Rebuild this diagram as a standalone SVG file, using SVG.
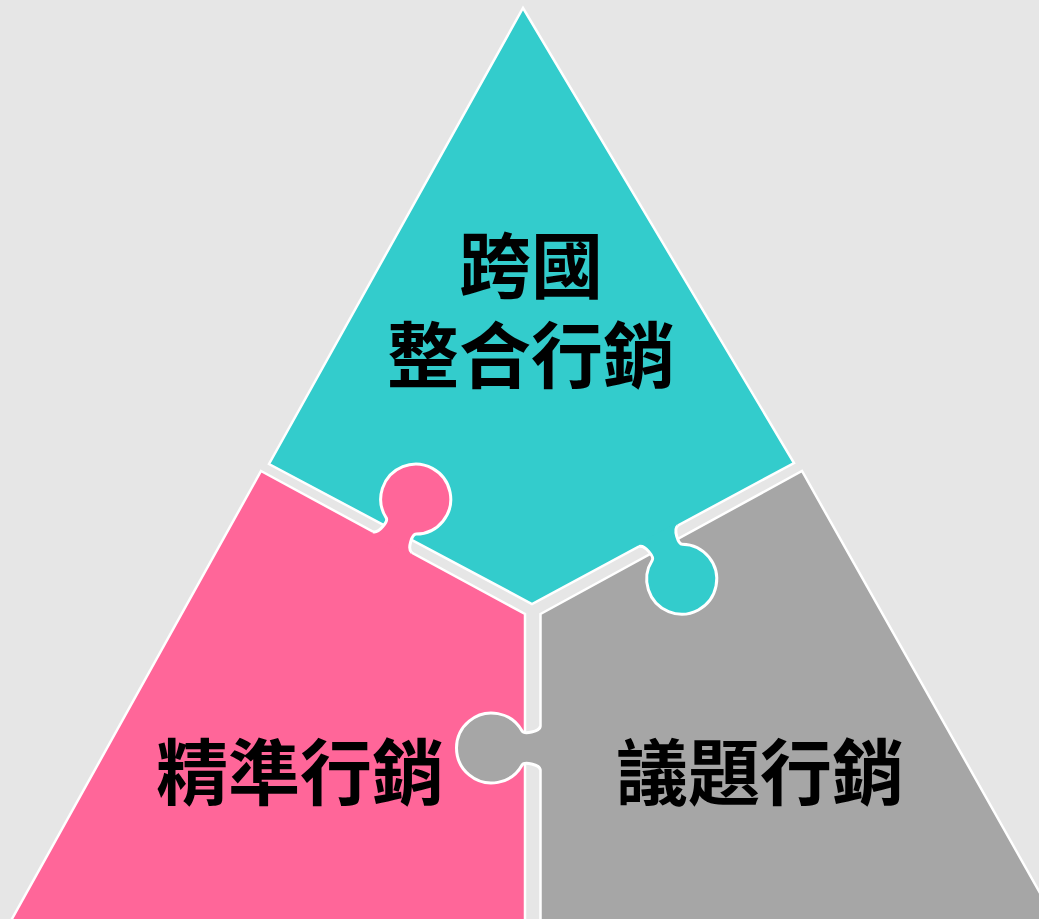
<svg xmlns="http://www.w3.org/2000/svg" xmlns:xlink="http://www.w3.org/1999/xlink" width="1039" height="919" viewBox="0 0 1039 919">
  <style>
    .body { stroke: #FFFFFF; stroke-width: 2.5; stroke-linejoin: miter; }
    .tab-outline { fill: none; stroke: #FFFFFF; stroke-width: 3; stroke-linejoin: round; }
    .cyan { fill: #33CCCC; }
    .pink { fill: #FF6699; }
    .gray { fill: #A6A6A6; }
    .label { font-family: "Noto Sans CJK TC", "Noto Sans CJK SC", "Noto Sans CJK JP", sans-serif; font-size: 72px; font-weight: bold; fill: #000000; text-anchor: middle; }
  </style>
  <defs>
    <path id="tabFill" d="M -22,3 L -22,0 C -16,-1 -13.5,-16.5 -17,-18.4 A 35 35 0 1 1 17,-18.4 C 13.5,-16.5 16,-1 22,0 L 22,3 Z"/>
    <path id="tabLine" d="M -22,0 C -16,-1 -13.5,-16.5 -17,-18.4 A 35 35 0 1 1 17,-18.4 C 13.5,-16.5 16,-1 22,0"/>
  </defs>
  <rect x="0" y="0" width="1039" height="919" fill="#E6E6E6"/>

  <g id="piece-cyan">
    <path class="body cyan" d="M 523,8 L 794,463 L 532,604 L 269,464 Z"/>
  </g>
  <g id="piece-pink">
    <path class="body pink" d="M 261,471 L 525,614 L 525,925 L 8.6,925 Z"/>
  </g>
  <g id="piece-gray">
    <path class="body gray" d="M 540.5,614 L 802,471 L 1058,925 L 540.5,925 Z"/>
  </g>

  <g id="connectors">
    <g id="tab-pink" transform="translate(392.4,542.2) rotate(28.45)">
      <use xlink:href="#tabFill" class="pink"/>
      <use xlink:href="#tabLine" class="tab-outline"/>
    </g>
    <g id="tab-cyan" transform="translate(658.5,536) rotate(151.7)">
      <use xlink:href="#tabFill" class="cyan"/>
      <use xlink:href="#tabLine" class="tab-outline"/>
    </g>
    <g id="tab-gray" transform="translate(540.5,748) rotate(-90)">
      <use xlink:href="#tabFill" class="gray"/>
      <use xlink:href="#tabLine" class="tab-outline"/>
    </g>
  </g>

  <g id="labels">
    <text class="label" x="531" y="292">跨國</text>
    <text class="label" x="531" y="382">整合行銷</text>
    <text class="label" x="300" y="799">精準行銷</text>
    <text class="label" x="760" y="799">議題行銷</text>
  </g>
</svg>
